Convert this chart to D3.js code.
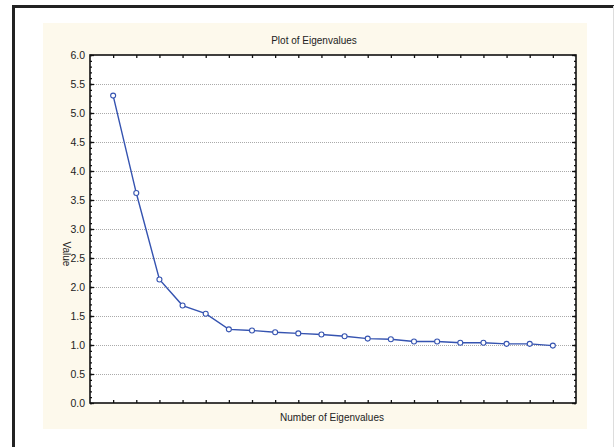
<!DOCTYPE html>
<html><head><meta charset="utf-8">
<script src="https://cdn.jsdelivr.net/npm/d3@7"></script>
<style>body{margin:0;background:#fff}svg{display:block}</style>
</head><body>
<script>
const eigenNumbers = [1,2,3,4,5,6,7,8,9,10,11,12,13,14,15,16,17,18,19,20];
const eigenValues = [5.30,3.62,2.13,1.68,1.54,1.27,1.25,1.22,1.20,1.18,1.15,1.11,1.10,1.06,1.06,1.04,1.04,1.02,1.02,0.99];
const yTickValues = [0,0.5,1,1.5,2,2.5,3,3.5,4,4.5,5,5.5,6];
const titleText = "Plot of Eigenvalues";
const xLabelText = "Number of Eigenvalues";
const yLabelText = "Value";

const W = 615, H = 447;
const svg = d3.select("body").append("svg").attr("width", W).attr("height", H);
const font = "'Liberation Sans Narrow','Arial Narrow','Liberation Sans',Arial,sans-serif";

// outer frame
svg.append("line").attr("x1",13.5).attr("y1",6.5).attr("x2",13.5).attr("y2",H).attr("stroke","#222").attr("stroke-width",3);
svg.append("line").attr("x1",12).attr("y1",6.5).attr("x2",614).attr("y2",6.5).attr("stroke","#222").attr("stroke-width",3);
svg.append("line").attr("x1",613.5).attr("y1",6).attr("x2",613.5).attr("y2",H).attr("stroke","#ddd").attr("stroke-width",1);

// cream panel
svg.append("rect").attr("x",43).attr("y",23).attr("width",544).attr("height",406).attr("fill","#fdf9ec");

const L = 90, R = 576, T = 55, B = 403;
const x = d3.scaleLinear().domain([0,21]).range([L,R]);
const y = d3.scaleLinear().domain([0,6]).range([B,T]);

svg.append("rect").attr("x",L).attr("y",T).attr("width",R-L).attr("height",B-T).attr("fill","#fff");

// grid
svg.append("g").selectAll("line").data(yTickValues.filter(v=>v>0&&v<6)).join("line")
  .attr("x1",L).attr("x2",R).attr("y1",d=>Math.round(y(d))+0.5).attr("y2",d=>Math.round(y(d))+0.5)
  .attr("stroke","#aaa").attr("stroke-width",1).attr("stroke-dasharray","1,1");

// axes
const minor = d3.range(0,60.5,1).map(d=>d/10);
const axL = svg.append("g").attr("transform",`translate(${L},0)`)
  .call(d3.axisRight(y).tickValues(minor).tickSize(2).tickFormat(""));
const axL2 = svg.append("g").attr("transform",`translate(${L},0)`)
  .call(d3.axisRight(y).tickValues(yTickValues).tickSize(4).tickFormat(""));
const axLabels = svg.append("g").attr("transform",`translate(${L},0)`)
  .call(d3.axisLeft(y).tickValues(yTickValues).tickSize(0).tickPadding(5).tickFormat(d3.format(".1f")));
const axR = svg.append("g").attr("transform",`translate(${R},0)`)
  .call(d3.axisLeft(y).tickValues(minor).tickSize(2).tickFormat(""));
const axR2 = svg.append("g").attr("transform",`translate(${R},0)`)
  .call(d3.axisLeft(y).tickValues(yTickValues).tickSize(4).tickFormat(""));
const axB = svg.append("g").attr("transform",`translate(0,${B})`)
  .call(d3.axisTop(x).tickValues(eigenNumbers).tickSize(3).tickFormat(""));
const axT = svg.append("g").attr("transform",`translate(0,${T})`)
  .call(d3.axisBottom(x).tickValues(eigenNumbers).tickSize(3).tickFormat(""));
[axL,axL2,axLabels,axR,axR2,axB,axT].forEach(g=>{
  g.select(".domain").remove();
  g.selectAll(".tick line").attr("stroke","#111").attr("stroke-width",1.3);
  g.selectAll("text").attr("font-family",font).attr("font-size",10.5).attr("fill","#222");
});

svg.append("rect").attr("x",L).attr("y",T).attr("width",R-L).attr("height",B-T)
  .attr("fill","none").attr("stroke","#111").attr("stroke-width",1.6);

// line + points
const pts = eigenNumbers.map((n,i)=>[n,eigenValues[i]]);
svg.append("path").datum(pts)
  .attr("d", d3.line().x(d=>x(d[0])).y(d=>y(d[1])))
  .attr("fill","none").attr("stroke","#3553b0").attr("stroke-width",1.4);
svg.append("g").selectAll("circle").data(pts).join("circle")
  .attr("cx",d=>x(d[0])).attr("cy",d=>y(d[1])).attr("r",2.5)
  .attr("fill","#fff").attr("stroke","#3553b0").attr("stroke-width",1.1);

// labels
svg.append("text").attr("x",314).attr("y",44).attr("text-anchor","middle")
  .attr("font-family",font).attr("font-size",10).attr("fill","#222").text(titleText);
svg.append("text").attr("x",332).attr("y",421).attr("text-anchor","middle")
  .attr("font-family",font).attr("font-size",10).attr("fill","#222").text(xLabelText);
svg.append("text").attr("transform","translate(63,254) rotate(90)").attr("text-anchor","middle")
  .attr("font-family",font).attr("font-size",10).attr("fill","#222").text(yLabelText);
</script>
</body></html>
